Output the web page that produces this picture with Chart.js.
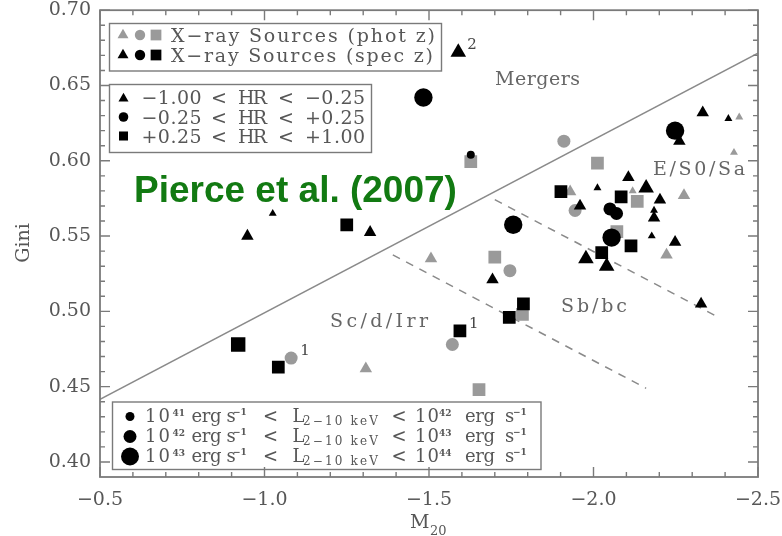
<!DOCTYPE html>
<html>
<head>
<meta charset="utf-8">
<script src="https://cdn.jsdelivr.net/npm/chart.js@4.4.0/dist/chart.umd.min.js"></script>
<style>
  html, body { margin: 0; padding: 0; background: #fff; }
</style>
</head>
<body>
<canvas id="chart" width="782" height="536"></canvas>
<script>
// AGN host morphologies: Gini vs M20
const m20 = [-0.920, -1.042, -1.081, -1.308, -1.571, -1.594, -1.506, -1.700, -1.746, -1.693,
             -1.787, -1.744, -1.784, -1.652, -1.589, -1.483, -1.910, -1.627, -1.627, -2.012,
             -2.332, -2.410, -2.443, -2.248, -2.261, -2.427, -2.106, -2.012, -2.119, -2.160,
             -2.084, -2.133, -2.202, -2.275, -1.959, -1.944, -1.901, -1.929, -2.050, -2.070,
             -2.184, -2.184, -2.055, -2.071, -2.177, -2.248, -2.114, -2.222, -2.025, -1.977,
             -2.040, -2.327, -1.756, -1.025, -0.948, -1.250, -1.321];
const gini = [0.478, 0.463, 0.469, 0.462, 0.478, 0.487, 0.535, 0.536, 0.527, 0.521,
              0.505, 0.496, 0.498, 0.448, 0.672, 0.642, 0.613, 0.604, 0.5995, 0.5985,
              0.632, 0.628, 0.629, 0.620, 0.613, 0.6055, 0.589, 0.582, 0.580, 0.582,
              0.576, 0.573, 0.574, 0.577, 0.570, 0.567, 0.5795, 0.5795, 0.568, 0.565,
              0.567, 0.562, 0.549, 0.553, 0.550, 0.546, 0.5435, 0.5375, 0.539, 0.535,
              0.530, 0.505, 0.5575, 0.565, 0.550, 0.5575, 0.5525];
// hardness ratio bin: T = -1.00..-0.25, C = -0.25..+0.25, S = +0.25..+1.00
const hrBin = ['S','S','C','T','C','S','T','S','C','T',
               'S','S','S','S','T','C','C','C','S','S',
               'T','T','T','C','T','T','T','T','T','T',
               'S','S','T','T','T','C','S','T','C','C',
               'T','T','C','S','T','T','S','T','S','T',
               'T','T','C','T','T','S','T'];
// log L(2-10 keV) lower bound of the bin
const lumBin = [43,42,42,42,42,42,42,42,42,42,
                42,42,42,42,43,43,42,41,42,42,
                42,41,41,43,42,41,42,41,41,43,
                42,42,42,42,42,42,42,42,42,42,
                41,42,43,42,41,42,42,42,42,43,
                43,42,43,41,42,42,42];
const zType = ['spec','spec','phot','phot','phot','spec','phot','phot','phot','spec',
               'spec','spec','phot','phot','spec','spec','phot','spec','phot','phot',
               'spec','spec','phot','spec','spec','phot','spec','spec','phot','spec',
               'spec','phot','spec','phot','spec','phot','spec','phot','spec','spec',
               'spec','spec','spec','phot','spec','spec','spec','phot','spec','spec',
               'spec','spec','spec','spec','spec','spec','spec'];
const pointNotes = { 2: '1', 5: '1', 14: '2' };

// classification boundaries
const mergerM20 = [-0.5, -2.5];
const mergerGini = [0.4415, 0.6715];
const earlyM20 = [-1.70, -2.37];
const earlyGini = [0.5742, 0.4972];
const lateM20 = [-1.39, -2.16];
const lateGini = [0.5375, 0.4489];

const xTickVals = [-0.5, -1.0, -1.5, -2.0, -2.5];
const yTickVals = [0.40, 0.45, 0.50, 0.55, 0.60, 0.65, 0.70];
const hrEdges = ['\u22121.00', '\u22120.25', '+0.25', '+1.00'];
const lumExp = ['41', '42', '43', '44'];

const SERIF = '"DejaVu Serif", serif';
const AXIS = '#7a7a7a';
const INK = '#575757';
const GREY_PT = '#9a9a9a';

const shapeOf = { T: 'triangle', C: 'circle', S: 'rect' };
const radiusOf = {
  triangle: { 41: 4.6, 42: 7.2, 43: 9.0 },
  circle:   { 41: 4.0, 42: 6.5, 43: 9.2 },
  rect:     { 41: 5.7, 42: 9.0, 43: 10.2 }
};

function pointSet(kind, color) {
  const idx = m20.map((_, i) => i).filter(i => zType[i] === kind);
  return {
    data: idx.map(i => ({ x: m20[i], y: gini[i] })),
    pointStyle: idx.map(i => shapeOf[hrBin[i]]),
    pointRadius: idx.map(i => radiusOf[shapeOf[hrBin[i]]][lumBin[i]]),
    pointBackgroundColor: color,
    pointBorderWidth: 0,
    order: kind === 'spec' ? 0 : 1
  };
}

function lineSet(xs, ys, dash) {
  return {
    data: xs.map((x, i) => ({ x, y: ys[i] })),
    showLine: true,
    borderColor: '#8a8a8a',
    borderWidth: 1.5,
    borderDash: dash,
    pointRadius: 0,
    order: 2
  };
}

function fmtNum(v, d) {
  return (v < 0 ? '\u2212' : '') + Math.abs(v).toFixed(d);
}

// keep the plot box where the layout padding puts it
function fixBox(size) {
  return s => {
    if (s.isHorizontal()) s.height = size; else s.width = size;
    s.paddingTop = s.paddingBottom = s.paddingLeft = s.paddingRight = 0;
  };
}

// draw text stretched to a given width through letter spacing
function spaced(ctx, str, x, y, width) {
  ctx.letterSpacing = '0px';
  const w = ctx.measureText(str).width;
  const n = [...str].length;
  if (width && n > 1) ctx.letterSpacing = ((width - w) / (n - 1)) + 'px';
  ctx.fillText(str, x, y);
  ctx.letterSpacing = '0px';
}

function mark(ctx, style, r, x, y, color) {
  ctx.fillStyle = color;
  Chart.helpers.drawPoint(ctx, { pointStyle: style, radius: r, rotation: 0, borderWidth: 0 }, x, y);
}

const overlay = {
  id: 'overlay',
  afterDatasetsDraw(chart) {
    const ctx = chart.ctx;
    const { left, right, top, bottom } = chart.chartArea;
    const xs = chart.scales.x, ys = chart.scales.y;
    ctx.save();

    // frame with inward ticks on all four sides
    ctx.strokeStyle = AXIS;
    ctx.lineWidth = 1.8;
    ctx.strokeRect(left, top, right - left, bottom - top);
    ctx.lineWidth = 1.4;
    ctx.beginPath();
    for (let i = 0; i <= 20; i++) {
      const px = xs.getPixelForValue(-0.5 - i * 0.1);
      const len = i % 5 === 0 ? 10 : 5;
      ctx.moveTo(px, bottom); ctx.lineTo(px, bottom - len);
      ctx.moveTo(px, top); ctx.lineTo(px, top + len);
    }
    for (let i = 0; i <= 30; i++) {
      const py = ys.getPixelForValue(0.40 + i * 0.01);
      const len = i % 5 === 0 ? 10 : 5;
      ctx.moveTo(left, py); ctx.lineTo(left + len, py);
      ctx.moveTo(right, py); ctx.lineTo(right - len, py);
    }
    ctx.stroke();

    // axis titles
    ctx.fillStyle = INK;
    ctx.textBaseline = 'alphabetic';
    ctx.textAlign = 'left';
    ctx.font = '19px ' + SERIF;
    ctx.fillText('M', 410, 528);
    ctx.font = '13px ' + SERIF;
    ctx.fillText('20', 430, 535);
    ctx.save();
    ctx.translate(29, 243);
    ctx.rotate(-Math.PI / 2);
    ctx.textAlign = 'center';
    ctx.font = '19px ' + SERIF;
    ctx.fillText('Gini', 0, 0);
    ctx.restore();

    // region labels
    ctx.fillStyle = '#666';
    ctx.font = '19px ' + SERIF;
    spaced(ctx, 'Mergers', 495, 85, 85);
    spaced(ctx, 'E/S0/Sa', 653, 175, 92);
    spaced(ctx, 'Sb/bc', 561, 311.5, 66);
    spaced(ctx, 'Sc/d/Irr', 330, 326.5, 98);

    // notes beside individual sources
    ctx.fillStyle = '#444';
    ctx.font = '15px ' + SERIF;
    Object.keys(pointNotes).forEach(k => {
      const px = xs.getPixelForValue(m20[k]);
      const py = ys.getPixelForValue(gini[k]);
      ctx.fillText(pointNotes[k], px + 9, py - 3);
    });

    // legend: redshift type
    ctx.strokeStyle = AXIS;
    ctx.lineWidth = 1.4;
    ctx.strokeRect(109.5, 23.5, 332, 47.5);
    mark(ctx, 'triangle', 6.3, 123, 35, GREY_PT);
    mark(ctx, 'circle', 5.2, 140, 35, GREY_PT);
    mark(ctx, 'rect', 7.6, 156, 35, GREY_PT);
    mark(ctx, 'triangle', 6.3, 123, 55, '#000');
    mark(ctx, 'circle', 5.2, 140, 55, '#000');
    mark(ctx, 'rect', 7.6, 156, 55, '#000');
    ctx.fillStyle = INK;
    ctx.font = '19px ' + SERIF;
    spaced(ctx, 'X\u2212ray Sources (phot z)', 171, 42, 264);
    spaced(ctx, 'X\u2212ray Sources (spec z)', 171, 62, 262);

    // legend: hardness ratio
    ctx.strokeRect(109.5, 84.5, 262, 68);
    mark(ctx, 'triangle', 5.8, 123.5, 98.5, '#000');
    mark(ctx, 'circle', 4.8, 123.5, 117, '#000');
    mark(ctx, 'rect', 6.4, 123.5, 136, '#000');
    ctx.fillStyle = INK;
    [104, 123.5, 143].forEach((by, r) => {
      spaced(ctx, hrEdges[r], 141.5, by, 60);
      ctx.fillText('<', 211, by);
      spaced(ctx, 'HR', 238, by, 29);
      ctx.fillText('<', 278, by);
      spaced(ctx, hrEdges[r + 1], 305, by, 60);
    });

    // legend: X-ray luminosity
    ctx.strokeRect(112.5, 402, 428.5, 67.5);
    const dotR = [4.5, 6.5, 9];
    [421.5, 441.5, 461.5].forEach((by, r) => {
      mark(ctx, 'circle', dotR[r], 130, by - 5, '#000');
      ctx.fillStyle = INK;
      ctx.font = '18px ' + SERIF;
      spaced(ctx, '10', 145, by, 25);
      spaced(ctx, 'erg', 191.5, by, 30);
      ctx.fillText('s', 226.5, by);
      ctx.fillText('<', 263, by);
      ctx.fillText('L', 292.5, by);
      ctx.fillText('<', 391.5, by);
      spaced(ctx, '10', 415, by, 24);
      spaced(ctx, 'erg', 465, by, 30);
      ctx.fillText('s', 505, by);
      ctx.font = '12px ' + SERIF;
      spaced(ctx, '2\u221210 keV', 303, by + 3, 75);
      ctx.font = 'bold 9px ' + SERIF;
      ctx.fillText(lumExp[r], 172.5, by - 6);
      ctx.fillText(lumExp[r + 1], 439, by - 6);
      ctx.fillText('\u22121', 233, by - 7);
      ctx.fillText('\u22121', 513, by - 7);
    });

    // citation
    ctx.fillStyle = '#127a12';
    ctx.font = 'bold 36px "Liberation Sans", Arial, sans-serif';
    const cite = 'Pierce et al. (2007)';
    const cw = ctx.measureText(cite).width;
    ctx.font = 'bold ' + (36 * 323 / cw).toFixed(1) + 'px "Liberation Sans", Arial, sans-serif';
    ctx.fillText(cite, 134, 202);

    ctx.restore();
  }
};

new Chart(document.getElementById('chart'), {
  type: 'scatter',
  data: {
    datasets: [
      pointSet('spec', '#000'),
      pointSet('phot', GREY_PT),
      lineSet(mergerM20, mergerGini, []),
      lineSet(earlyM20, earlyGini, [8, 7]),
      lineSet(lateM20, lateGini, [8, 7])
    ]
  },
  options: {
    responsive: false,
    animation: false,
    devicePixelRatio: 1,
    layout: { padding: { top: 10, right: 24, left: 0, bottom: 0 } },
    plugins: { legend: { display: false }, tooltip: { enabled: false } },
    scales: {
      x: {
        type: 'linear',
        reverse: true,
        min: -2.5,
        max: -0.5,
        afterFit: fixBox(59),
        afterBuildTicks: s => { s.ticks = xTickVals.map(v => ({ value: v })); },
        grid: { display: false, drawTicks: false },
        border: { display: false },
        ticks: {
          color: INK,
          padding: 14,
          maxRotation: 0,
          font: { family: SERIF, size: 19, lineHeight: 1 },
          callback: v => fmtNum(v, 1)
        }
      },
      y: {
        type: 'linear',
        min: 0.39,
        max: 0.70,
        afterFit: fixBox(100),
        afterBuildTicks: s => { s.ticks = yTickVals.map(v => ({ value: v })); },
        grid: { display: false, drawTicks: false },
        border: { display: false },
        ticks: {
          color: INK,
          padding: 9,
          font: { family: SERIF, size: 19, lineHeight: 1 },
          callback: v => fmtNum(v, 2)
        }
      }
    }
  },
  plugins: [overlay]
});
</script>
</body>
</html>
